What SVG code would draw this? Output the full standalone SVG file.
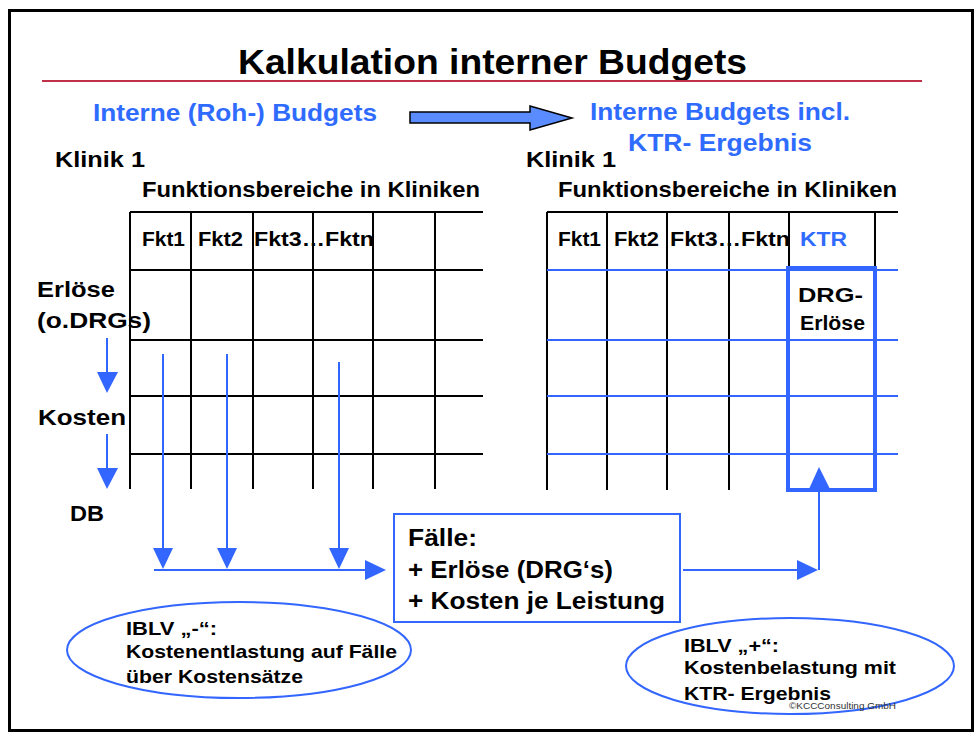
<svg xmlns="http://www.w3.org/2000/svg" width="976" height="733" viewBox="0 0 976 733">
<defs>
<style>
text{font-family:"Liberation Sans",Arial,sans-serif;font-weight:bold;fill:#000}
.b{fill:#2f6bff}
.g{stroke:#000;stroke-width:2;fill:none}
.bl{stroke:#3366ff;stroke-width:2;fill:none}
.ah{fill:#3366ff}
.f19{font-size:20px}.f21{font-size:22px}.f22{font-size:23px}.f18{font-size:19px}.f23{font-size:24px}
</style>
</defs>
<rect x="0" y="0" width="976" height="733" fill="#fff"/>
<rect x="9.5" y="10.5" width="963" height="720" fill="none" stroke="#000" stroke-width="3"/>

<g id="title">
<text x="238" y="74" font-size="35" textLength="509" lengthAdjust="spacingAndGlyphs">Kalkulation interner Budgets</text>
<line x1="42" y1="81" x2="922" y2="81" stroke="#c0304a" stroke-width="2"/>
</g>

<g id="header-left">
<text class="b f23" x="93" y="121" textLength="284" lengthAdjust="spacingAndGlyphs">Interne (Roh-) Budgets</text>
</g>
<g id="big-arrow">
<polygon points="410,112 530,112 530,106 572,118 530,130 530,123 410,123" fill="#5b8cff" stroke="#000" stroke-width="1.5"/>
</g>
<g id="header-right">
<text class="b f23" x="590" y="120" textLength="260" lengthAdjust="spacingAndGlyphs">Interne Budgets incl.</text>
<text class="b f23" x="628" y="151" textLength="184" lengthAdjust="spacingAndGlyphs">KTR- Ergebnis</text>
</g>

<g id="table-left">
<text class="f21" x="55" y="167" textLength="90" lengthAdjust="spacingAndGlyphs">Klinik 1</text>
<text class="f21" x="142" y="197" textLength="338" lengthAdjust="spacingAndGlyphs">Funktionsbereiche in Kliniken</text>
<path class="g" d="M130,212H483M130,270H483M130,340H483M130,396H483M130,454H483M130,212V489M191,212V489M253,212V489M313,212V489M373,212V489M435,212V489"/>
<text class="f19" x="142" y="246" textLength="43" lengthAdjust="spacingAndGlyphs">Fkt1</text>
<text class="f19" x="198" y="246" textLength="45" lengthAdjust="spacingAndGlyphs">Fkt2</text>
<text class="f19" x="254" y="246" textLength="120" lengthAdjust="spacingAndGlyphs">Fkt3…Fktn</text>
<text class="f21" x="37" y="297" textLength="78" lengthAdjust="spacingAndGlyphs">Erlöse</text>
<text class="f21" x="37" y="328" textLength="114" lengthAdjust="spacingAndGlyphs">(o.DRGs)</text>
<text class="f21" x="38" y="425" textLength="88" lengthAdjust="spacingAndGlyphs">Kosten</text>
<text class="f21" x="70" y="521" textLength="34" lengthAdjust="spacingAndGlyphs">DB</text>
</g>

<g id="table-right">
<text class="f21" x="526" y="167" textLength="90" lengthAdjust="spacingAndGlyphs">Klinik 1</text>
<text class="f21" x="558" y="197" textLength="339" lengthAdjust="spacingAndGlyphs">Funktionsbereiche in Kliniken</text>
<path class="g" d="M547,212H898M547,212V490M607,212V490M667,212V490M729,212V490M789,212V268M875,212V268"/>
<path class="bl" d="M547,270H898M547,340H898M547,396H898M547,454H898"/>
<text class="f19" x="558" y="246" textLength="43" lengthAdjust="spacingAndGlyphs">Fkt1</text>
<text class="f19" x="614" y="246" textLength="45" lengthAdjust="spacingAndGlyphs">Fkt2</text>
<text class="f19" x="670" y="246" textLength="120" lengthAdjust="spacingAndGlyphs">Fkt3…Fktn</text>
<text class="b f19" x="800" y="246" textLength="47" lengthAdjust="spacingAndGlyphs">KTR</text>
</g>

<g id="ktr-box">
<rect x="788" y="268" width="87" height="222" fill="none" stroke="#3366ff" stroke-width="4"/>
<text class="f19" x="798" y="302" textLength="65" lengthAdjust="spacingAndGlyphs">DRG-</text>
<text class="f19" x="800" y="330" textLength="65" lengthAdjust="spacingAndGlyphs">Erlöse</text>
</g>

<g id="faelle">
<rect x="394" y="514" width="286" height="108" fill="#fff" stroke="#3366ff" stroke-width="2"/>
<text class="f22" x="408" y="546" textLength="69" lengthAdjust="spacingAndGlyphs">Fälle:</text>
<text class="f22" x="408" y="578" textLength="205" lengthAdjust="spacingAndGlyphs">+ Erlöse (DRG‘s)</text>
<text class="f22" x="408" y="609" textLength="257" lengthAdjust="spacingAndGlyphs">+ Kosten je Leistung</text>
</g>

<g id="iblv-minus">
<ellipse cx="239" cy="650" rx="172" ry="48" fill="none" stroke="#3366ff" stroke-width="2"/>
<text class="f18" x="126" y="635" textLength="91" lengthAdjust="spacingAndGlyphs">IBLV „-“:</text>
<text class="f18" x="126" y="658" textLength="271" lengthAdjust="spacingAndGlyphs">Kostenentlastung auf Fälle</text>
<text class="f18" x="126" y="683" textLength="177" lengthAdjust="spacingAndGlyphs">über Kostensätze</text>
</g>

<g id="iblv-plus">
<ellipse cx="790" cy="666" rx="164" ry="48" fill="none" stroke="#3366ff" stroke-width="2"/>
<text class="f18" x="684" y="652" textLength="95" lengthAdjust="spacingAndGlyphs">IBLV „+“:</text>
<text class="f18" x="684" y="674" textLength="212" lengthAdjust="spacingAndGlyphs">Kostenbelastung mit</text>
<text class="f18" x="684" y="700" textLength="147" lengthAdjust="spacingAndGlyphs">KTR- Ergebnis</text>
<text x="789" y="709" font-size="9" style="font-weight:normal;fill:#333" textLength="107" lengthAdjust="spacingAndGlyphs">©KCCConsulting GmbH</text>
</g>

<g id="connectors">
<path class="bl" d="M107,338V374M107,434V470"/>
<polygon class="ah" points="97,372 118,372 107,393"/>
<polygon class="ah" points="97,468 118,468 107,489"/>
<path class="bl" d="M163,354V550M227,354V550M339,362V550M154,570H367"/>
<polygon class="ah" points="153,548 173,548 163,569"/>
<polygon class="ah" points="217,548 237,548 227,569"/>
<polygon class="ah" points="329,548 349,548 339,569"/>
<polygon class="ah" points="365,560 365,580 386,570"/>
<path class="bl" d="M683,570H799M819,570V487"/>
<polygon class="ah" points="797,560 797,580 818,570"/>
<polygon class="ah" points="809,489 830,489 819,467"/>
</g>
</svg>
